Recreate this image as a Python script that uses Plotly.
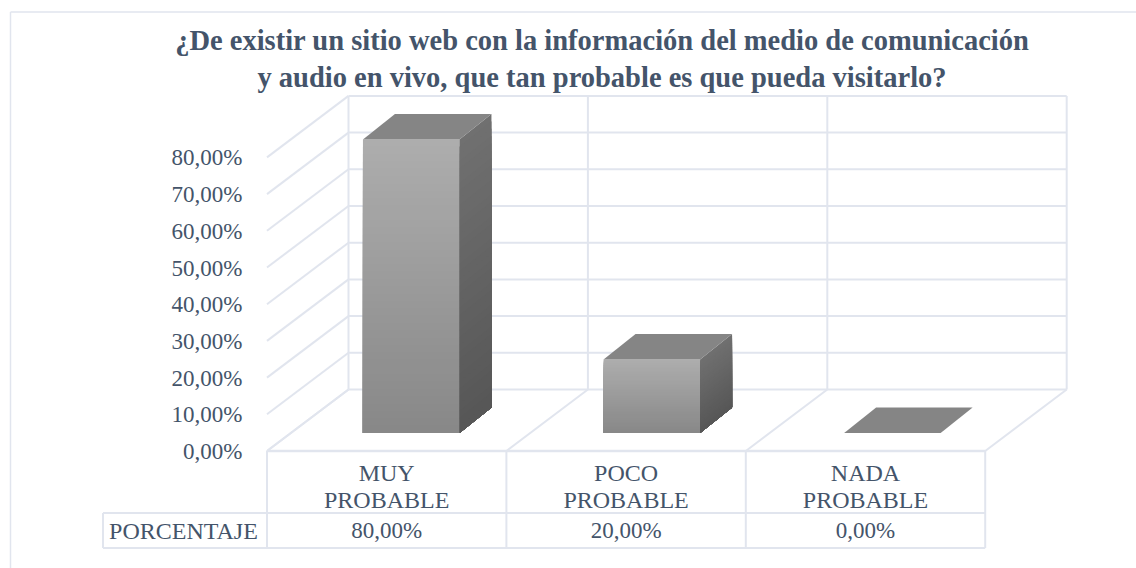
import plotly.graph_objects as go

# ---- data ----
category_line1 = ["MUY", "POCO", "NADA"]
category_line2 = ["PROBABLE", "PROBABLE", "PROBABLE"]
values = [80.0, 20.0, 0.0]
value_labels = ["80,00%", "20,00%", "0,00%"]
row_label = "PORCENTAJE"
y_ticks = [0, 10, 20, 30, 40, 50, 60, 70, 80]
y_tick_labels = ["0,00%", "10,00%", "20,00%", "30,00%", "40,00%", "50,00%", "60,00%", "70,00%", "80,00%"]
title_text = ("<b>¿De existir un sitio web con la información del medio de comunicación<br>"
              "y audio en vivo, que tan probable es que pueda visitarlo?</b>")

# ---- scene constants (axis units) ----
W, H = 1136, 568
PX_X, PX_Y = 239.4, 3.67       # pixels per axis unit
X0, Y0 = 267, 451              # pixel position of the floor's front-left corner
FLOOR_DX, FLOOR_DY = 81.5 / PX_X, 61.5 / PX_Y
BAR_W = 96.5 / PX_X
BAR_PITCH = 240.6 / PX_X
BAR_DX, BAR_DY = 32 / PX_X, 25.5 / PX_Y
BAR_OX, BAR_OY = 24.5 / PX_X, 18 / PX_Y
ROW1 = (Y0 - 513) / PX_Y
ROW2 = (Y0 - 548) / PX_Y
LINE1_Y = (Y0 - 475) / PX_Y
LINE2_Y = (Y0 - 502) / PX_Y
VALUE_Y = (Y0 - 532.5) / PX_Y
TBL_L = (103 - X0) / PX_X
LABEL_X = (183.5 - X0) / PX_X
GRID = "#e1e5ee"
TEXT = "#44546a"
FONT = "Liberation Serif"
SLICES = 40

fig = go.Figure()


def line(xs, ys, width=2):
    fig.add_trace(go.Scatter(x=xs, y=ys, mode="lines", hoverinfo="skip", showlegend=False,
                             line=dict(color=GRID, width=width)))


def poly(xs, ys, color):
    fig.add_trace(go.Scatter(x=xs + xs[:1], y=ys + ys[:1], mode="lines", fill="toself", fillcolor=color,
                             hoverinfo="skip", showlegend=False, line=dict(color=color, width=0)))


def mix(a, b, t):
    return "rgb(%d,%d,%d)" % tuple(round(a + (b - a) * t) for _ in range(3))


def text(xs, ys, labels, size):
    fig.add_trace(go.Scatter(x=xs, y=ys, text=labels, mode="text", hoverinfo="skip", showlegend=False,
                             textfont=dict(family=FONT, size=size, color=TEXT)))


# walls and floor
n = len(values)
for v in y_ticks:
    line([0, FLOOR_DX], [v, v + FLOOR_DY])
    line([FLOOR_DX, n + FLOOR_DX], [v + FLOOR_DY, v + FLOOR_DY])
for i in range(n + 1):
    line([i, i + FLOOR_DX], [0, FLOOR_DY])
    line([i + FLOOR_DX, i + FLOOR_DX], [FLOOR_DY, y_ticks[-1] + FLOOR_DY])

# data table
line([0, n], [0, 0], 2.5)
line([TBL_L, n], [ROW1, ROW1])
line([TBL_L, n], [ROW2, ROW2])
line([TBL_L, TBL_L], [ROW1, ROW2])
for i in range(n + 1):
    line([i, i], [0, ROW2])

# bars: each slice reaches down to the base and the next one paints over it
for i, v in enumerate(values):
    xl = 0.5 + i * BAR_PITCH + BAR_OX - BAR_W / 2
    xr = xl + BAR_W
    y0 = BAR_OY
    y1 = BAR_OY + v
    if v > 0:
        for s in range(SLICES):
            t = s / SLICES
            a = y1 - v * t
            poly([xl, xr, xr, xl], [a, a, y0, y0], mix(173, 135, t))
            poly([xr, xr + BAR_DX, xr + BAR_DX, xr],
                 [a, a + BAR_DY, y0 + BAR_DY, y0], mix(112, 86, t))
    poly([xl, xr, xr + BAR_DX, xl + BAR_DX], [y1, y1, y1 + BAR_DY, y1 + BAR_DY], "#858585")

# table text
centres = [i + 0.5 for i in range(n)]
text(centres, [LINE1_Y] * n, category_line1, 24)
text(centres, [LINE2_Y] * n, category_line2, 24)
text(centres, [VALUE_Y] * n, value_labels, 23)
text([LABEL_X], [VALUE_Y], [row_label], 24)

fig.update_layout(
    width=W, height=H, margin=dict(l=0, r=0, t=0, b=0), autosize=False,
    paper_bgcolor="white", plot_bgcolor="white",
    showlegend=False,
    font=dict(family=FONT, size=23, color=TEXT),
    title=dict(text=title_text, x=602 / W, xanchor="center", y=1 - 50 / H, yanchor="middle",
               font=dict(family=FONT, size=28.5, color=TEXT)),
    xaxis=dict(range=[-X0 / PX_X, (W - X0) / PX_X], visible=False),
    yaxis=dict(range=[(Y0 - H) / PX_Y, Y0 / PX_Y], tickmode="array", tickvals=y_ticks,
               ticktext=y_tick_labels, anchor="free", position=X0 / W,
               showgrid=False, zeroline=False, showline=False,
               ticks="outside", ticklen=20, tickcolor="rgba(0,0,0,0)"),
)
fig.add_shape(type="line", xref="paper", yref="paper", x0=10.5 / W, x1=1, y0=1 - 12 / H, y1=1 - 12 / H,
              line=dict(color=GRID, width=1.5))
fig.add_shape(type="line", xref="paper", yref="paper", x0=10.5 / W, x1=10.5 / W, y0=0, y1=1 - 12 / H,
              line=dict(color=GRID, width=1.5))
fig.write_html("out.html", config={"displayModeBar": False},
               post_script="document.body.style.margin='0';")
